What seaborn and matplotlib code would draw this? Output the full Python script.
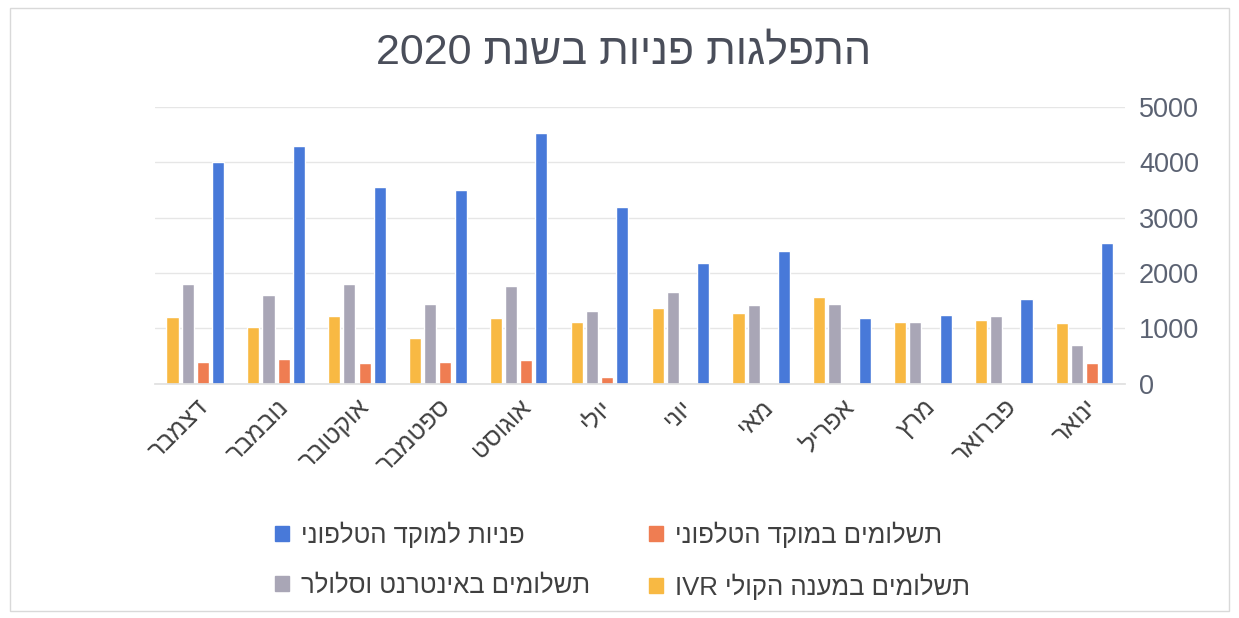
import re
import matplotlib
matplotlib.use("Agg")
import matplotlib.pyplot as plt
from matplotlib.patches import Patch, Rectangle
import seaborn as sns
import pandas as pd

# ---------------- data ----------------
months = ["ינואר", "פברואר", "מרץ", "אפריל", "מאי", "יוני",
          "יולי", "אוגוסט", "ספטמבר", "אוקטובר", "נובמבר", "דצמבר"]
series_names = ["פניות למוקד הטלפוני", "תשלומים במוקד הטלפוני",
                "תשלומים באינטרנט וסלולר", "תשלומים במענה הקולי IVR"]
calls_center = [2550, 1530, 1240, 1185, 2400, 2180, 3200, 4520, 3500, 3550, 4300, 4000]
pay_phone    = [380, 0, 0, 0, 0, 0, 130, 430, 400, 380, 450, 390]
pay_internet = [700, 1230, 1110, 1440, 1430, 1660, 1320, 1760, 1440, 1810, 1600, 1800]
pay_ivr      = [1090, 1150, 1120, 1560, 1270, 1370, 1110, 1180, 830, 1220, 1030, 1200]
title = "התפלגות פניות בשנת 2020"
yticks = [0, 1000, 2000, 3000, 4000, 5000]

colors = ["#4879d9", "#ef7d52", "#a9a6b6", "#f8b943"]


def vis(s):
    """Visual (RTL) order for matplotlib, which has no bidi support."""
    r = s[::-1]
    return re.sub(r"[A-Za-z0-9]+", lambda m: m.group(0)[::-1], r)


rows = []
for name, vals in zip(series_names, [calls_center, pay_phone, pay_internet, pay_ivr]):
    for m, v in zip(months, vals):
        rows.append({"month": vis(m), "series": vis(name), "value": v})
df = pd.DataFrame(rows)

sns.set_theme(style="white")
plt.rcParams["font.family"] = ["Liberation Sans", "DejaVu Sans"]

fig = plt.figure(figsize=(12.39, 6.18), dpi=100)
ax = fig.add_axes([0.125, 0.379, 0.783, 0.448])

sns.barplot(data=df, x="month", y="value", hue="series",
            order=[vis(m) for m in months],
            hue_order=[vis(n) for n in series_names],
            palette=colors, width=0.75, gap=0.2, ax=ax,
            legend=False, saturation=1)

ax.invert_xaxis()
ax.set_ylim(0, 5000)
ax.set_yticks(yticks)
ax.yaxis.tick_right()
ax.set_yticklabels([str(t) for t in yticks], fontsize=19.5, color="#5b6272")
ax.tick_params(axis="y", length=0, pad=10)
ax.tick_params(axis="x", length=0, pad=8)
for lbl in ax.get_xticklabels():
    lbl.set_rotation(45)
    lbl.set_ha("right")
    lbl.set_va("top")
    lbl.set_rotation_mode("anchor")
    lbl.set_fontsize(18)
    lbl.set_color("#404040")
ax.set_xlabel("")
ax.set_ylabel("")
ax.grid(axis="y", color="#e6e6e6", linewidth=1)
ax.set_axisbelow(True)
for sp in ["top", "left", "right"]:
    ax.spines[sp].set_visible(False)
ax.spines["bottom"].set_color("#e0e0e0")

fig.text(0.503, 0.913, vis(title), ha="center", va="center",
         fontsize=31, color="#4a4e5a")

handles = [Patch(color=c) for c in colors]
labels = [vis(n) for n in series_names]
order = [0, 2, 1, 3]
fig.legend([handles[i] for i in order], [labels[i] for i in order],
           ncol=2, loc="center left", bbox_to_anchor=(0.222, 0.093),
           frameon=False, fontsize=18.5, handlelength=0.55, handleheight=0.55,
           handletextpad=0.45, columnspacing=2.3, labelspacing=1.0,
           labelcolor="#404040", borderpad=0, borderaxespad=0)

fig.patches.append(Rectangle((0.008, 0.012), 0.984, 0.975, transform=fig.transFigure,
                             fill=False, edgecolor="#d9d9d9", linewidth=1))

fig.savefig("out.png", dpi=100)
